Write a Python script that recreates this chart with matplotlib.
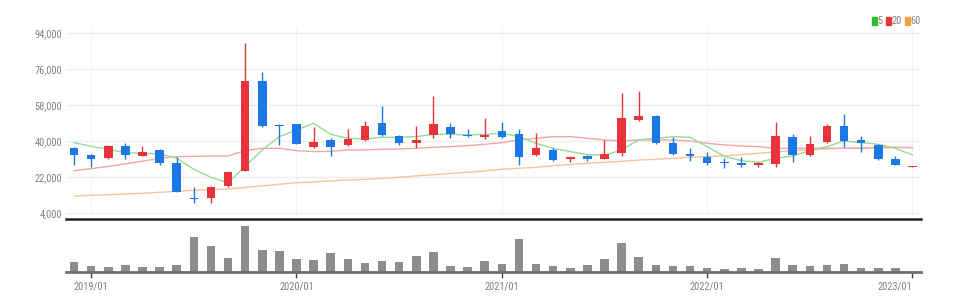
import os
import matplotlib.pyplot as plt
import matplotlib.font_manager as fm
from matplotlib.patches import Rectangle

# monthly candles, 2018/12 .. 2023/01
months = ['2018/12'] + ['%d/%02d' % (y, m) for y in range(2019, 2023) for m in range(1, 13)] + ['2023/01']

opens = [36500, 33330, 31500, 37670, 32830, 35670, 29330, 11500, 11500, 17670,
         25330, 70170, 48170, 48500, 37330, 40500, 37990, 40670, 49330, 42670,
         39330, 43000, 47330, 43330, 42330, 45330, 43500, 33170, 35500, 31000,
         32670, 31330, 34000, 50670, 52670, 39330, 33670, 32330, 29830, 29170,
         28170, 28670, 42000, 33170, 39500, 47830, 40500, 38170, 31330, 27170]
highs = [37000, 33670, 38330, 39000, 37670, 36170, 32330, 17330, 17670, 24830,
         89000, 74500, 48500, 48830, 47170, 41500, 46330, 50330, 57670, 43000,
         47830, 62830, 49330, 46000, 51500, 49670, 46170, 44000, 36500, 32500,
         33300, 40670, 64330, 65170, 53330, 42000, 36500, 34830, 31830, 32330,
         29800, 49670, 43500, 42670, 48500, 53830, 42670, 38830, 32670, 27800]
lows = [28170, 27330, 31000, 31170, 32670, 28170, 14500, 9000, 9330, 17330,
        25330, 47000, 38170, 38500, 36830, 32670, 37500, 40330, 42670, 38330,
        36500, 41670, 41500, 42000, 41000, 41500, 28170, 32670, 30330, 29700,
        30300, 31000, 32670, 50330, 38830, 33170, 30170, 28170, 26500, 27000,
        27300, 27330, 29830, 32670, 39000, 37000, 34830, 30670, 28000, 27000]
closes = [33330, 31330, 37670, 33170, 34670, 29170, 14500, 11000, 17330, 24500,
          70170, 47830, 47670, 38830, 39670, 37330, 41170, 47830, 43170, 39330,
          40670, 48500, 43500, 42670, 43170, 42330, 32170, 36830, 30670, 32170,
          31000, 33670, 51830, 52830, 39330, 33670, 32830, 29330, 29000, 28330,
          29000, 42670, 33170, 38670, 47830, 40330, 39330, 31170, 28000, 27670]
volume = [29, 19, 16, 21, 15, 14, 21, 104, 78, 42,
          137, 67, 63, 38, 36, 58, 38, 27, 33, 29,
          49, 61, 19, 16, 32, 24, 100, 25, 17, 13,
          21, 40, 88, 45, 20, 17, 17, 12, 8, 11,
          8, 42, 21, 17, 21, 24, 11, 13, 13, 0]

ma5 = [39330, 37500, 36000, 34300, 34000, 33700, 31500, 26000, 22000, 19300,
       27500, 35670, 42330, 45670, 49000, 43500, 41500, 41170, 42000, 42000,
       42330, 43500, 43500, 43170, 43500, 44000, 42330, 39000, 36500, 34830,
       33330, 33000, 35670, 40670, 41500, 42330, 42000, 37330, 32500, 30330,
       29500, 31500, 32670, 35330, 37330, 40170, 39330, 38500, 36500, 33170]
ma20 = [25330, 26300, 27500, 28700, 30000, 31500, 32330, 32500, 32600, 32700,
        35330, 36500, 36500, 35330, 34830, 35000, 35670, 35670, 36000, 36170,
        36500, 37000, 37330, 37830, 38500, 39330, 40670, 41500, 42330, 42330,
        41500, 40670, 40170, 40670, 40670, 40670, 40170, 39000, 38170, 37670,
        37330, 36500, 36500, 36500, 36500, 36500, 36500, 36800, 37000, 36830]
ma60 = [12670, 13000, 13330, 13700, 14000, 14500, 15000, 15500, 15800, 16170,
        16900, 17700, 18500, 19300, 19700, 20200, 20600, 21000, 21500, 22000,
        22700, 23300, 23900, 24500, 25200, 26000, 26500, 27000, 27800, 28400,
        29000, 29500, 30000, 30600, 31000, 31500, 32000, 32300, 32700, 33300,
        34000, 34700, 35300, 35800, 36200, 36500, 36700, 36800, 36900, 36900]

yticks = [4000, 22000, 40000, 58000, 76000, 94000]
xlabels = ['2019/01', '2020/01', '2021/01', '2022/01', '2023/01']

UP = '#e8333b'
DOWN = '#1a79e6'
TXT = '#808080'


def pick_font():
    # a narrow face looks closest to the reference labels
    wanted = ['RobotoCondensed-Regular.ttf', 'LiberationSansNarrow-Regular.ttf',
              'DejaVuSansCondensed.ttf', 'OpenSans_Condensed-Regular.ttf']
    files = {os.path.basename(f.fname): f.fname for f in fm.fontManager.ttflist}
    for w in wanted:
        if w in files:
            return fm.FontProperties(fname=files[w], size=7.5)
    return fm.FontProperties(family='Liberation Sans', size=6.5)


fp = pick_font()

W, H = 961, 305
fig = plt.figure(figsize=(W / 100, H / 100), dpi=100)

left, right = 66 / W, 921 / W
ax = fig.add_axes([left, 1 - 219 / H, right - left, (219 - 28) / H])
axv = fig.add_axes([left, 1 - 272 / H, right - left, 50 / H])

xs = list(range(len(months)))
label_pos = [months.index(m) for m in xlabels]

# price panel
for i in xs:
    o, h, l, c = opens[i], highs[i], lows[i], closes[i]
    col = UP if c >= o else DOWN
    ax.vlines(i, l, h, color=col, lw=1, zorder=3)
    body = max(abs(c - o), 500)
    ax.add_patch(Rectangle((i - 0.25, min(o, c)), 0.5, body, color=col, lw=0, zorder=4))

ax.plot(xs, ma60, color='#f8c49a', lw=1, zorder=2)
ax.plot(xs, ma20, color='#f4a6a6', lw=1, zorder=2)
ax.plot(xs, ma5, color='#95dc95', lw=1, zorder=2)

ax.set_xlim(-0.47, 49.5)
ax.set_ylim(1150, 96650)
ax.set_yticks(yticks)
ax.set_yticklabels(['{:,}'.format(v) for v in yticks], fontproperties=fp, color=TXT)
ax.set_xticks(label_pos)
ax.tick_params(axis='x', bottom=False, labelbottom=False)
ax.tick_params(axis='y', length=0, pad=3)
ax.grid(axis='y', color='#efefef', lw=1)
ax.grid(axis='x', color='#f3f3f3', lw=0.8)
ax.set_axisbelow(True)
for s in ['top', 'right', 'left']:
    ax.spines[s].set_visible(False)
ax.spines['bottom'].set_color('#222222')
ax.spines['bottom'].set_linewidth(1.8)

# volume panel
axv.bar(xs, volume, width=0.5, color='#8c8c8c', zorder=2)
axv.set_xlim(-0.47, 49.5)
axv.set_ylim(0, 150)
axv.set_yticks([])
axv.set_xticks(label_pos)
axv.set_xticklabels(xlabels, fontproperties=fp, color=TXT)
axv.get_xticklabels()[-1].set_horizontalalignment('right')
axv.tick_params(axis='x', length=4, width=1, color='#444444', pad=3)
for s in ['top', 'right', 'left']:
    axv.spines[s].set_visible(False)
axv.spines['bottom'].set_color('#6e6e6e')
axv.spines['bottom'].set_linewidth(2)

# legend in top right
legend_items = [('5', '#2dbd2d', 872), ('20', '#e8333b', 886), ('60', '#f5a142', 905)]
for name, col, px in legend_items:
    fig.add_artist(Rectangle((px / W, 1 - 25 / H), 4.5 / W, 8 / H, color=col,
                             transform=fig.transFigure))
    fig.text((px + 5.5) / W, 1 - 21 / H, name, fontproperties=fp, color=TXT, va='center')

fig.savefig('out.png', dpi=100)
